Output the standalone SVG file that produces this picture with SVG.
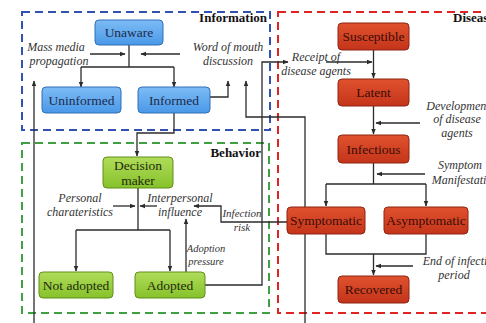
<svg xmlns="http://www.w3.org/2000/svg" width="486" height="323" viewBox="0 0 486 323">
  <style>
    text { font-family: "Liberation Serif", "DejaVu Serif", "Times New Roman", serif; }
    .frame { fill: none; stroke-width: 2; stroke-dasharray: 8 5; }
    .title { font-weight: bold; font-size: 13px; fill: #111; }
    .lbl { font-style: italic; font-size: 12px; fill: #333; text-anchor: middle; }
    .nt { font-size: 13.5px; text-anchor: middle; }
    .conn { fill: none; stroke: #2b2b2b; stroke-width: 1.3; }
    .arr { marker-end: url(#ah); }
    .blue rect { fill: url(#gBlue); stroke: #2f6fb8; stroke-width: 1; }
    .blue text { fill: #1c2b4a; }
    .green rect { fill: url(#gGreen); stroke: #5f8f1a; stroke-width: 1; }
    .green text { fill: #1f2a10; }
    .red rect { fill: url(#gRed); stroke: #8e2412; stroke-width: 1; }
    .red text { fill: #3a0c06; }
  </style>
  <defs>
    <marker id="ah" viewBox="0 0 10 10" refX="9" refY="5" markerWidth="6" markerHeight="6" markerUnits="userSpaceOnUse" orient="auto">
      <path d="M0,1 L10,5 L0,9 z" fill="#2b2b2b"/>
    </marker>
    <linearGradient id="gBlue" x1="0" y1="0" x2="0" y2="1">
      <stop offset="0" stop-color="#7dbcf5"/>
      <stop offset="1" stop-color="#4a98e8"/>
    </linearGradient>
    <linearGradient id="gGreen" x1="0" y1="0" x2="0" y2="1">
      <stop offset="0" stop-color="#b0dc5a"/>
      <stop offset="1" stop-color="#86c22a"/>
    </linearGradient>
    <linearGradient id="gRed" x1="0" y1="0" x2="0" y2="1">
      <stop offset="0" stop-color="#e0522e"/>
      <stop offset="1" stop-color="#c4341a"/>
    </linearGradient>
  </defs>

  <rect width="486" height="323" fill="#ffffff"/>

  <!-- layer frames -->
  <g id="frames">
    <rect class="frame" x="22" y="12" width="248" height="118" stroke="#3352b0"/>
    <rect class="frame" x="22" y="143" width="247" height="170" stroke="#3ea043"/>
    <rect class="frame" x="278" y="12" width="215" height="301" stroke="#e02424"/>
    <text class="title" x="267" y="22" text-anchor="end">Information</text>
    <text class="title" x="261" y="157" text-anchor="end">Behavior</text>
    <text class="title" x="453" y="22">Disease</text>
  </g>

  <!-- connectors -->
  <g id="connectors">
    <!-- information layer -->
    <path class="conn" d="M129,45 V67 M81,67 H174"/>
    <path class="conn arr" d="M81,67 V87"/>
    <path class="conn arr" d="M174,67 V87"/>
    <path class="conn arr" d="M90,54 H125"/>
    <path class="conn arr" d="M180,54 H141"/>
    <path class="conn arr" d="M210,97 H228 V81"/>
    <path class="conn arr" d="M174,113 V133 H137 V156"/>
    <!-- cross-layer feedback -->
    <path class="conn arr" d="M34,323 V81"/>
    <path class="conn arr" d="M305,323 V117 H246 V81"/>
    <path class="conn arr" d="M205,285 H262 V62 H288"/>
    <!-- behavior layer -->
    <path class="conn" d="M138,188 V230 M76,230 H170"/>
    <path class="conn arr" d="M76,230 V271"/>
    <path class="conn arr" d="M170,230 V271"/>
    <path class="conn arr" d="M113,206 H135"/>
    <path class="conn arr" d="M157,206 H140"/>
    <path class="conn arr" d="M287,222 H221 V206 H194"/>
    <path class="conn arr" d="M186,272 V219"/>
    <!-- disease layer -->
    <path class="conn arr" d="M373.5,50 V78"/>
    <path class="conn arr" d="M326,62 H372"/>
    <path class="conn arr" d="M373.5,106 V134"/>
    <path class="conn arr" d="M420,123 H376"/>
    <path class="conn" d="M373.5,163 V184 M326,184 H426"/>
    <path class="conn arr" d="M326,184 V206"/>
    <path class="conn arr" d="M426,184 V206"/>
    <path class="conn arr" d="M425,174 H377"/>
    <path class="conn" d="M326,234 V254 H426 V234"/>
    <path class="conn arr" d="M373.5,254 V275"/>
    <path class="conn arr" d="M413,266 H376"/>
  </g>

  <!-- edge labels -->
  <g id="labels">
    <text class="lbl" x="56" y="51">Mass media</text>
    <text class="lbl" x="59" y="65">propagation</text>
    <text class="lbl" x="228" y="51">Word of mouth</text>
    <text class="lbl" x="228" y="65">discussion</text>
    <text class="lbl" x="316" y="61">Receipt of</text>
    <text class="lbl" x="316" y="75">disease agents</text>
    <text class="lbl" x="458" y="110">Development</text>
    <text class="lbl" x="457" y="123">of disease</text>
    <text class="lbl" x="457" y="137">agents</text>
    <text class="lbl" x="460" y="169">Symptom</text>
    <text class="lbl" x="465" y="184">Manifestation</text>
    <text class="lbl" x="461" y="265">End of infection</text>
    <text class="lbl" x="454" y="279">period</text>
    <text class="lbl" x="80" y="202">Personal</text>
    <text class="lbl" x="80" y="216">charateristics</text>
    <text class="lbl" x="180" y="202">Interpersonal</text>
    <text class="lbl" x="180" y="216">influence</text>
    <text class="lbl" x="242" y="217" style="font-size:11px">Infection</text>
    <text class="lbl" x="242" y="231" style="font-size:11px">risk</text>
    <text class="lbl" x="206" y="252" style="font-size:10.5px">Adoption</text>
    <text class="lbl" x="206" y="265" style="font-size:10.5px">pressure</text>
  </g>

  <!-- nodes -->
  <g id="unaware" class="blue"><rect x="95" y="20" width="68" height="25" rx="4"/><text class="nt" x="129" y="37">Unaware</text></g>
  <g id="uninformed" class="blue"><rect x="42" y="87" width="79" height="26" rx="4"/><text class="nt" x="81.5" y="105">Uninformed</text></g>
  <g id="informed" class="blue"><rect x="138" y="87" width="72" height="26" rx="4"/><text class="nt" x="174" y="105">Informed</text></g>

  <g id="decision-maker" class="green"><rect x="103" y="157" width="70" height="31" rx="4"/><text class="nt" x="138" y="170">Decision</text><text class="nt" x="138" y="185">maker</text></g>
  <g id="not-adopted" class="green"><rect x="39" y="272" width="74" height="26" rx="4"/><text class="nt" x="76" y="290">Not adopted</text></g>
  <g id="adopted" class="green"><rect x="135" y="272" width="70" height="26" rx="4"/><text class="nt" x="170" y="290">Adopted</text></g>

  <g id="susceptible" class="red"><rect x="338" y="23" width="71" height="27" rx="4"/><text class="nt" x="373.5" y="41">Susceptible</text></g>
  <g id="latent" class="red"><rect x="338" y="79" width="71" height="27" rx="4"/><text class="nt" x="373.5" y="97">Latent</text></g>
  <g id="infectious" class="red"><rect x="338" y="135" width="71" height="28" rx="4"/><text class="nt" x="373.5" y="154">Infectious</text></g>
  <g id="symptomatic" class="red"><rect x="287" y="207" width="78" height="27" rx="4"/><text class="nt" x="326" y="225">Symptomatic</text></g>
  <g id="asymptomatic" class="red"><rect x="384" y="207" width="84" height="27" rx="4"/><text class="nt" x="426" y="225">Asymptomatic</text></g>
  <g id="recovered" class="red"><rect x="338" y="276" width="71" height="27" rx="4"/><text class="nt" x="373.5" y="294">Recovered</text></g>
</svg>
